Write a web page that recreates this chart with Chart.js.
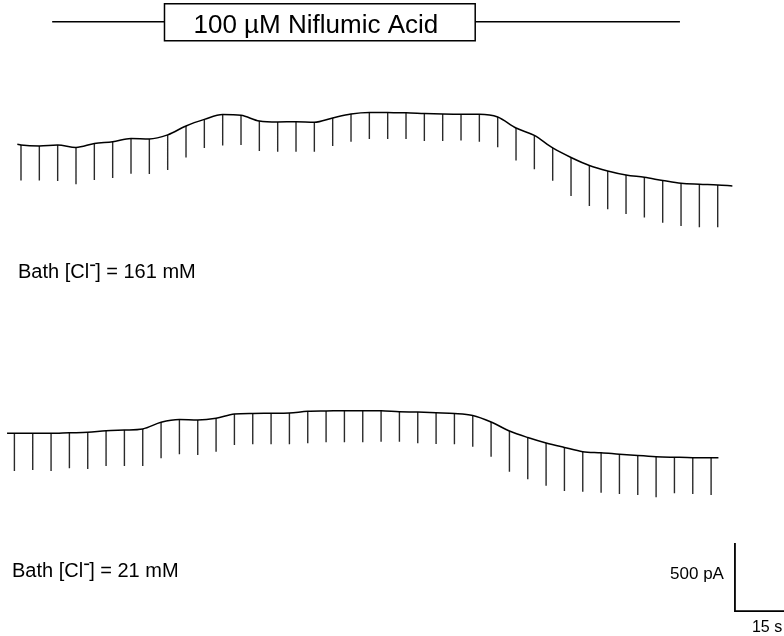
<!DOCTYPE html>
<html>
<head>
<meta charset="utf-8">
<script src="https://cdn.jsdelivr.net/npm/chart.js@4.4.0/dist/chart.umd.min.js"></script>
<style>
  html, body { margin: 0; padding: 0; background: #fff; }
  canvas { display: block; }
</style>
</head>
<body>
<canvas id="traces" width="784" height="636"></canvas>
<script>
// time of each voltage pulse (s), same for both recordings
const pulseTimes = [0, 5, 10, 15, 20, 25, 30, 35, 40, 45, 50, 55, 60, 65, 70, 75, 80, 85, 90, 95,
  100, 105, 110, 115, 120, 125, 130, 135, 140, 145, 150, 155, 160, 165, 170, 175, 180, 185, 190];

// Bath [Cl-] = 161 mM : holding current and pulse peak (pA)
const topHold = [-700, -707, -700, -718, -689, -676, -652, -656, -626, -560, -512, -476, -482, -524,
  -531, -529, -533, -501, -472, -461, -462, -463, -468, -472, -474, -474, -494, -575, -630, -722,
  -792, -851, -891, -921, -938, -961, -982, -989, -994];
const topPeak = [-961, -961, -965, -989, -957, -943, -912, -913, -884, -792, -722, -704, -700, -744,
  -749, -749, -749, -707, -676, -656, -656, -656, -671, -671, -668, -676, -717, -815, -879, -963,
  -1075, -1149, -1173, -1207, -1234, -1271, -1296, -1305, -1305];
const topEdgeTimes = [-1, 194];
const topEdgeHold = [-695, -1001];

// Bath [Cl-] = 21 mM
const bottomHold = [-650, -650, -650, -646, -643, -631, -626, -618, -569, -549, -552, -540, -508, -504,
  -503, -501, -488, -486, -484, -484, -485, -491, -494, -499, -504, -519, -567, -633, -681, -721,
  -754, -785, -793, -804, -814, -822, -826, -829, -829];
const bottomPeak = [-927, -920, -927, -907, -912, -890, -890, -890, -834, -804, -810, -785, -736, -731,
  -731, -731, -724, -716, -716, -716, -712, -712, -724, -729, -731, -749, -822, -932, -988, -1035,
  -1074, -1079, -1087, -1096, -1104, -1121, -1091, -1096, -1104];
const bottomEdgeTimes = [-2, 192];
const bottomEdgeHold = [-650, -829];

// drug application (s) and scale bar sizes
const drugTimes = [8.5, 179.7];
const drugLabel = "100 \u00B5M Niflumic Acid";
const scaleTime = 15;
const scaleCurrent = 500;

// layout: where each record sits on the page
const topOffset = -366;
const bottomOffset = -2536;
const bottomShift = -1.8;
const drugBarY = -160;
const drugLabelT = 81.5;
const scaleBarX = 194.7;
const scaleBarY = -4493;

function holdPoints(times, hold, edgeT, edgeH, dx, dy) {
  let pts = [{ x: edgeT[0] + dx, y: edgeH[0] + dy }];
  times.forEach((t, i) => pts.push({ x: t + dx, y: hold[i] + dy }));
  pts.push({ x: edgeT[1] + dx, y: edgeH[1] + dy });
  return pts;
}

function spikePoints(times, hold, peak, dx, dy) {
  let pts = [];
  times.forEach((t, i) => {
    pts.push({ x: t + dx, y: hold[i] + dy });
    pts.push({ x: t + dx, y: peak[i] + dy });
    pts.push({ x: t + dx, y: null });
  });
  return pts;
}

const traceStyle = {
  borderColor: "#000",
  borderWidth: 1.5,
  pointRadius: 0,
  cubicInterpolationMode: "monotone",
};
const spikeStyle = {
  borderColor: "#2a2a2a",
  borderWidth: 1.4,
  pointRadius: 0,
  tension: 0,
  spanGaps: false,
  borderCapStyle: "butt",
};

const labelFont = '"Liberation Sans", Arial, Helvetica, sans-serif';

function bathLabel(ctx, x, y, conc) {
  ctx.font = "20px " + labelFont;
  ctx.textAlign = "left";
  ctx.textBaseline = "alphabetic";
  let a = "Bath [Cl";
  ctx.fillText(a, x, y);
  let w = ctx.measureText(a).width;
  ctx.fillRect(x + w + 1, y - 13.5, 5, 1.6);
  ctx.fillText("] = " + conc + " mM", x + w + 6, y);
}

const annotations = {
  id: "annotations",
  afterDatasetsDraw(chart) {
    const ctx = chart.ctx;
    const xs = chart.scales.x;
    const ys = chart.scales.y;
    ctx.save();
    ctx.fillStyle = "#000";

    // drug label box over the application bar
    ctx.font = "26px " + labelFont;
    let tw = ctx.measureText(drugLabel).width;
    let cx = xs.getPixelForValue(drugLabelT);
    let cy = ys.getPixelForValue(drugBarY);
    let bw = tw + 66;
    ctx.fillStyle = "#fff";
    ctx.fillRect(cx - bw / 2, cy - 18, bw, 37);
    ctx.strokeStyle = "#000";
    ctx.lineWidth = 1.5;
    ctx.strokeRect(cx - bw / 2, cy - 18, bw, 37);
    ctx.fillStyle = "#000";
    ctx.textAlign = "center";
    ctx.textBaseline = "alphabetic";
    ctx.fillText(drugLabel, cx - 4, cy + 11);

    // recording conditions
    bathLabel(ctx, 18, 278, 161);
    bathLabel(ctx, 12, 577, 21);

    // scale bar labels
    let sx = xs.getPixelForValue(scaleBarX);
    let sy = ys.getPixelForValue(scaleBarY);
    let sTop = ys.getPixelForValue(scaleBarY + scaleCurrent);
    ctx.font = "17px " + labelFont;
    ctx.textAlign = "right";
    ctx.fillText(scaleCurrent + " pA", sx - 11, (sy + sTop) / 2 + 2);
    ctx.font = "16px " + labelFont;
    ctx.textAlign = "left";
    ctx.fillText(scaleTime + " s", sx + 17, sy + 21);
    ctx.restore();
  },
};

new Chart(document.getElementById("traces").getContext("2d"), {
  type: "line",
  data: {
    datasets: [
      Object.assign({ data: holdPoints(pulseTimes, topHold, topEdgeTimes, topEdgeHold, 0, topOffset) }, traceStyle),
      Object.assign({ data: spikePoints(pulseTimes, topHold, topPeak, 0, topOffset) }, spikeStyle),
      Object.assign({ data: holdPoints(pulseTimes, bottomHold, bottomEdgeTimes, bottomEdgeHold, bottomShift, bottomOffset) }, traceStyle),
      Object.assign({ data: spikePoints(pulseTimes, bottomHold, bottomPeak, bottomShift, bottomOffset) }, spikeStyle),
      {
        data: [{ x: drugTimes[0], y: drugBarY }, { x: drugTimes[1], y: drugBarY }],
        borderColor: "#000",
        borderWidth: 1.5,
        pointRadius: 0,
      },
      {
        data: [
          { x: scaleBarX, y: scaleBarY + scaleCurrent },
          { x: scaleBarX, y: scaleBarY },
          { x: scaleBarX + scaleTime, y: scaleBarY },
        ],
        borderColor: "#000",
        borderWidth: 1.8,
        pointRadius: 0,
        tension: 0,
        borderJoinStyle: "miter",
      },
    ],
  },
  options: {
    responsive: false,
    animation: false,
    devicePixelRatio: 1,
    layout: { padding: 0 },
    scales: {
      x: { type: "linear", min: -5.727, max: 208.08, display: false },
      y: { type: "linear", min: -4676.5, max: 0, display: false },
    },
    plugins: {
      legend: { display: false },
      tooltip: { enabled: false },
    },
  },
  plugins: [annotations],
});
</script>
</body>
</html>
